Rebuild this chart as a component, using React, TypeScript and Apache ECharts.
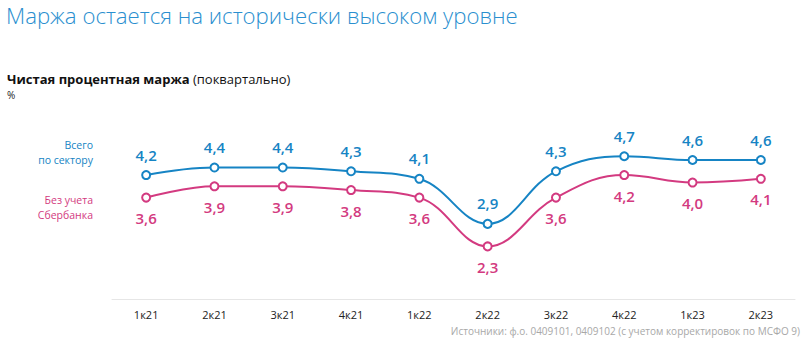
import React, { useEffect, useRef } from "react";
import * as echarts from "echarts";

const categories = ["1к21", "2к21", "3к21", "4к21", "1к22", "2к22", "3к22", "4к22", "1к23", "2к23"];
const totalSector = [4.2, 4.4, 4.4, 4.3, 4.1, 2.9, 4.3, 4.7, 4.6, 4.6];
const exSberbank = [3.6, 3.9, 3.9, 3.8, 3.6, 2.3, 3.6, 4.2, 4.0, 4.1];

const BLUE = "#1684c4";
const PINK = "#d33a80";
const FONT = "'Open Sans', 'Noto Sans', sans-serif";

export default function App() {
  const ref = useRef<HTMLDivElement>(null);
  useEffect(() => {
    const chart = echarts.init(ref.current!, null, { renderer: "svg" });
    const fmt = (p: any) => String(p.value.toFixed(1)).replace(".", ",");
    const sideLabel = (text: string, y: number, color: string) => ({
      type: "text",
      x: 93,
      y,
      style: { text, align: "right", verticalAlign: "middle", fill: color, fontSize: 10.5, fontFamily: FONT },
    });
    chart.setOption({
      animation: false,
      textStyle: { fontFamily: FONT },
      grid: { left: 112, right: 11, top: 145, bottom: 51 },
      xAxis: {
        type: "category",
        data: categories,
        boundaryGap: true,
        axisLine: { show: true, lineStyle: { color: "#e6e6e6", width: 1 } },
        axisTick: { show: false },
        axisLabel: { color: "#222", fontSize: 11, margin: 10, fontFamily: FONT },
        splitLine: { show: false },
      },
      yAxis: { type: "value", min: 0.9, max: 5, show: false, splitLine: { show: false } },
      graphic: [
        {
          type: "text",
          left: 6,
          top: 4,
          style: { text: "Маржа остается на исторически высоком уровне", fill: "#2a8fcf", fontSize: 22.2, fontWeight: 300, fontFamily: FONT },
        },
        {
          type: "text",
          left: 7,
          top: 72,
          style: {
            text: "{b|Чистая процентная маржа} {n|(поквартально)}",
            rich: {
              b: { fontSize: 13, fontWeight: "bold", fill: "#111", fontFamily: FONT },
              n: { fontSize: 13, fill: "#111", fontFamily: FONT },
            },
          },
        },
        { type: "text", left: 7, top: 90, style: { text: "%", fontSize: 10, fill: "#222", fontFamily: FONT } },
        sideLabel("Всего", 145, BLUE),
        sideLabel("по сектору", 159.5, BLUE),
        sideLabel("Без учета", 200, PINK),
        sideLabel("Сбербанка", 214.5, PINK),
        {
          type: "text",
          x: 800,
          y: 326,
          style: { text: "Источники: ф.о. 0409101, 0409102 (с учетом корректировок по МСФО 9)", align: "right", verticalAlign: "top", fill: "#a8a8a8", fontSize: 10, fontFamily: FONT },
        },
      ],
      series: [
        {
          name: "Всего по сектору",
          type: "line",
          data: totalSector,
          smooth: 0.4,
          symbol: "emptyCircle",
          symbolSize: 8,
          lineStyle: { color: BLUE, width: 2 },
          itemStyle: { color: BLUE, borderColor: BLUE, borderWidth: 2 },
          label: { show: true, position: "top", distance: 8, color: BLUE, fontSize: 15, fontWeight: 600, formatter: fmt, fontFamily: FONT },
        },
        {
          name: "Без учета Сбербанка",
          type: "line",
          data: exSberbank,
          smooth: 0.4,
          symbol: "emptyCircle",
          symbolSize: 8,
          lineStyle: { color: PINK, width: 2 },
          itemStyle: { color: PINK, borderColor: PINK, borderWidth: 2 },
          label: { show: true, position: "bottom", distance: 8, color: PINK, fontSize: 15, fontWeight: 600, formatter: fmt, fontFamily: FONT },
        },
      ],
    });
    return () => chart.dispose();
  }, []);
  return <div ref={ref} style={{ width: 806, height: 350, position: "absolute", left: 0, top: 0, background: "#fff" }} />;
}
